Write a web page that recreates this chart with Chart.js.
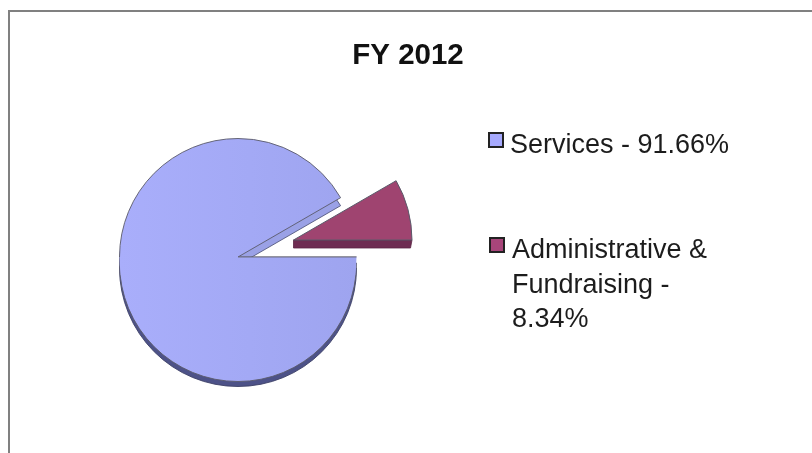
<!DOCTYPE html>
<html>
<head>
<meta charset="utf-8">
<style>
    html, body { margin: 0; padding: 0; background: #fff; overflow: hidden; }
    #wrap { position: relative; width: 812px; height: 453px; font-family: "Liberation Sans", Arial, sans-serif; }
    #frame { position: absolute; left: 8px; top: 10px; width: 806px; height: 450px; border: 2px solid #808080; box-sizing: border-box; }
    canvas { position: absolute; left: 0; top: 0; }
    .item { position: absolute; font-size: 27px; line-height: 34.5px; color: #1c1c1c; width: 205px; }
    .swatch { position: absolute; width: 12px; height: 12px; border: 2px solid #222; }
</style>
</head>
<body>
<div id="wrap">
    <div id="frame"></div>
    <canvas id="chart" width="812" height="453"></canvas>
</div>
<script src="https://cdn.jsdelivr.net/npm/chart.js@4/dist/chart.umd.min.js"></script>
<script>
const titleText = "FY 2012";
const categories = ["Services", "Administrative & Fundraising"];
const shares = [91.66, 8.34];
const swatchColors = ["#a6a9fd", "#a8457a"];

// how far each slice is pulled out of the pie
const pullX = [0, 55.5];
const pullY = [0, -17];

const legendLeft = [510, 512];
const legendTop = [127, 232];
const swatchLeft = [488, 489];
const swatchTop = [132, 237];

const canvas = document.getElementById("chart");

// faint left to right shading on the big slice
const faceShade = canvas.getContext("2d").createLinearGradient(119, 0, 357, 0);
faceShade.addColorStop(0, "#a9aefb");
faceShade.addColorStop(0.55, "#a3a9f5");
faceShade.addColorStop(1, "#9ea4ef");

function wedge(ctx, arc, depth) {
    ctx.beginPath();
    ctx.moveTo(arc.x, arc.y + depth);
    ctx.arc(arc.x, arc.y + depth, arc.outerRadius, arc.startAngle, arc.endAngle);
    ctx.closePath();
}

// only paints the part of the wedge above or below the centre line
function clippedWedge(ctx, arc, depth, above, fill, stroke) {
    ctx.save();
    ctx.beginPath();
    if (above) ctx.rect(0, 0, 812, arc.y);
    else ctx.rect(0, arc.y, 812, 453 - arc.y);
    ctx.clip();
    wedge(ctx, arc, depth);
    if (fill) {
        ctx.fillStyle = fill;
        ctx.fill();
    }
    if (stroke) {
        ctx.strokeStyle = stroke;
        ctx.lineWidth = 0.9;
        ctx.stroke();
    }
    ctx.restore();
}

const pullSlices = {
    id: "pullSlices",
    afterDatasetsUpdate(chart) {
        chart.getDatasetMeta(0).data.forEach((arc, i) => {
            arc.x += pullX[i];
            arc.y += pullY[i];
        });
    },
    // the fake 3d edge sits under the flat slices
    beforeDatasetsDraw(chart) {
        const ctx = chart.ctx;
        const [big, small] = chart.getDatasetMeta(0).data;
        clippedWedge(ctx, big, 8, true, "#9aa1e6", "#55597f");
        clippedWedge(ctx, big, 11, false, "#4d5288", "#3c3f66");
        clippedWedge(ctx, big, 6, false, faceShade, "#5a5a6a");
        // straight wall under the small slice
        ctx.save();
        ctx.beginPath();
        ctx.moveTo(small.x, small.y);
        ctx.lineTo(small.x, small.y + 8);
        ctx.lineTo(small.x + small.outerRadius - 1.5, small.y + 8);
        ctx.lineTo(small.x + small.outerRadius, small.y);
        ctx.closePath();
        ctx.fillStyle = "#6e2c52";
        ctx.strokeStyle = "#5a2444";
        ctx.lineWidth = 0.8;
        ctx.fill();
        ctx.stroke();
        ctx.restore();
    },
    afterDatasetsDraw(chart) {
        const ctx = chart.ctx;
        const big = chart.getDatasetMeta(0).data[0];
        // outline of the big slice, upper half only; the lower half is the rim's
        clippedWedge(ctx, big, 0, true, null, "#5a5a6a");
        ctx.save();
        ctx.strokeStyle = "#6a6a78";
        ctx.lineWidth = 0.9;
        ctx.beginPath();
        ctx.moveTo(big.x, big.y);
        ctx.lineTo(big.x + big.outerRadius, big.y);
        ctx.stroke();
        ctx.restore();
    },
    // title is centred on the page, not on the pie's padded area
    afterDraw(chart) {
        const ctx = chart.ctx;
        ctx.save();
        ctx.font = "bold 29.5px 'Liberation Sans', Arial, sans-serif";
        ctx.fillStyle = "#111";
        ctx.textAlign = "center";
        ctx.textBaseline = "middle";
        ctx.fillText(titleText, 408, 56);
        ctx.restore();
    }
};

new Chart(canvas, {
    type: "pie",
    data: {
        labels: categories,
        datasets: [{
            data: shares,
            backgroundColor: [faceShade, "#9f4470"],
            borderColor: "#5a5a6a",
            borderWidth: [0, 1]
        }]
    },
    options: {
        responsive: false,
        animation: false,
        events: [],
        rotation: 90,
        layout: { padding: { left: 119, right: 455, top: 138, bottom: 77 } },
        plugins: {
            legend: { display: false },
            tooltip: { enabled: false },
            title: { display: false }
        }
    },
    plugins: [pullSlices]
});

// legend is plain text next to the chart, wraps like the original
const wrap = document.getElementById("wrap");
categories.forEach((name, i) => {
    const sw = document.createElement("div");
    sw.className = "swatch";
    sw.style.left = swatchLeft[i] + "px";
    sw.style.top = swatchTop[i] + "px";
    sw.style.background = swatchColors[i];
    wrap.appendChild(sw);

    const item = document.createElement("div");
    item.className = "item";
    item.style.left = legendLeft[i] + "px";
    item.style.top = legendTop[i] + "px";
    item.textContent = name + " - " + shares[i] + "%";
    if (i === 0) item.style.width = "290px";
    wrap.appendChild(item);
});
</script>
</body>
</html>
